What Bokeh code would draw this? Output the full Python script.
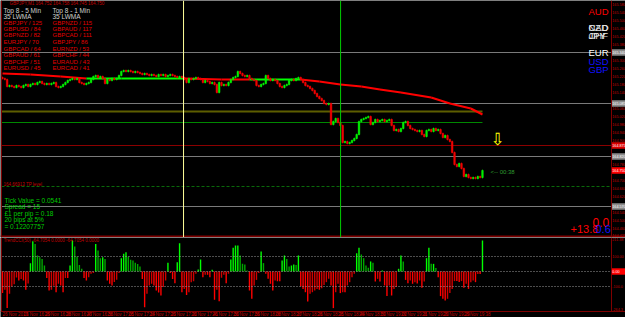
from bokeh.plotting import figure
from bokeh.layouts import column
from bokeh.models import Range1d, Span, Label
from bokeh.embed import file_html
from bokeh.resources import INLINE

# ---------------- data ----------------
first_open = 165.215
closes = [
    165.210, 165.205, 165.170, 165.175, 165.170, 165.165, 165.175, 165.170,
    165.165, 165.175, 165.180, 165.170, 165.180, 165.185, 165.180, 165.190, 165.195, 165.185, 165.180, 165.185, 165.180, 165.185,
    165.190, 165.170, 165.165, 165.170, 165.180, 165.190, 165.200, 165.205, 165.210, 165.205, 165.210, 165.190, 165.185, 165.180, 165.185,
    165.190, 165.205, 165.220, 165.225, 165.215, 165.220, 165.210, 165.185, 165.205, 165.200, 165.210, 165.205, 165.210, 165.225,
    165.245, 165.250, 165.245, 165.250, 165.245, 165.240, 165.245, 165.240, 165.235, 165.230, 165.235, 165.230, 165.225, 165.230, 165.225,
    165.220, 165.230, 165.225, 165.230, 165.220, 165.225, 165.230, 165.225, 165.220, 165.215, 165.220, 165.215, 165.205, 165.190,
    165.210, 165.205, 165.210, 165.215, 165.210, 165.205, 165.190, 165.200, 165.195, 165.185, 165.190, 165.180, 165.140, 165.190, 165.175,
    165.180, 165.175, 165.190, 165.205, 165.215, 165.220, 165.245, 165.235, 165.225, 165.220, 165.225, 165.210, 165.205, 165.200,
    165.175, 165.170, 165.180, 165.185, 165.225, 165.210, 165.200, 165.205, 165.200, 165.185, 165.170, 165.165, 165.175, 165.180, 165.200,
    165.205, 165.200, 165.210, 165.215, 165.205, 165.190, 165.175, 165.170, 165.160, 165.150, 165.135, 165.120, 165.110, 165.100, 165.085,
    165.080, 165.085, 164.980, 164.995, 165.010, 164.990, 164.975, 164.890, 164.895, 164.885, 164.890, 164.900, 164.910, 164.930,
    164.995, 165.005, 165.010, 165.015, 165.020, 164.980, 164.990, 165.005, 164.995, 165.000, 165.005, 164.995, 165.000, 165.005, 164.975,
    164.950, 164.955, 164.945, 164.960, 164.990, 164.995, 164.975, 164.960, 164.955, 164.950, 164.945, 164.950, 164.930, 164.920,
    164.950, 164.955, 164.945, 164.960, 164.950, 164.955, 164.935, 164.915, 164.925, 164.905, 164.895, 164.840, 164.780, 164.770, 164.785,
    164.760, 164.720, 164.730, 164.715, 164.710, 164.715, 164.710, 164.720, 164.715,
    164.750,
]

indicator = [
    -144, -122, -244, -149, -100, -85, -40, -60, -50, -60,
    -122, -80, 55, 202, 184, 107, 95, 84, 40, -44,
    -127, -122, -95, -138, -82, -93, -138, -44, -44, 40,
    207, 167, 100, 44, 18, -44, -60, -38, -15, -10,
    184, 140, 89, 95, 84, -60, -82, -93, -70, -55,
    -10, 89, 118, 129, 100, 78, 73, 58, 50, 33,
    -50, -238, -149, -93, -82, -93, -127, -140, -160, -104,
    -60, 58, -10, -50, -78, 62, 189, -138, -116, -156,
    -138, -71, -65, -15, 13, 80, -38, -22, -22, -38,
    11, -189, -122, -198, -42, -22, -78, -15, 80, 158,
    173, 173, 107, 51, 47, 7, -127, -182, -93, -56,
    -10, 133, 56, -15, -49, -82, -127, -60, -65, -65,
    73, 107, 84, 33, 40, 47, 44, 107,
    -100, -116, -138, -200, -149, -138, -127, -116, -122, -111,
    -90, -71, -49, -93, -244, -138, -82, -144, -138, -138,
    -93, -71, -38, -15, 122, 158, 113, 89, 40, 25,
    67, 58, -67, -49, -67, 7, -93, -164, -93, -160,
    -116, -104, 18, 107, 67, -56, -78, -60, -82, -71,
    -80, -60, -109, -67, 89, 158, 51, 51, 24, -38,
    -164, -182, -193, -182, -144, -116, -64, -64, -70, -64,
    -109, -82, -116, -71, -60, -71, -16, -16, 207,
]

# 35 LWMA read at sample bars
ma_idx = [0, 12, 25, 36, 51, 78, 94, 106, 128, 136, 145, 154, 162, 171, 184, 192, 201, 206]
ma_val = [165.235, 165.230, 165.220, 165.210, 165.210, 165.210, 165.205, 165.205, 165.205,
          165.195, 165.180, 165.170, 165.155, 165.140, 165.115, 165.085, 165.060, 165.030]
ma_flat = [False, False, False, True, True, False, False, True, False,
           False, False, False, False, False, False, False, False]

# horizontal levels: price, last bar index reached (None = full width), colour, width, dash
levels = [
    (165.340, None, "#7a7a7a", 1, "solid"),
    (165.085, None, "#7a7a7a", 1, "solid"),
    (165.045, 206, "#5e5e00", 2, "solid"),
    (164.990, 206, "#008800", 1, "solid"),
    (164.875, None, "#8b0000", 1, "solid"),
    (164.820, None, "#7a7a7a", 1, "solid"),
    (164.670, None, "#0a6a0a", 1, "3 2"),
    (164.570, None, "#7a7a7a", 1, "solid"),
]
marked_levels = [(165.340, "#8a8a8a"), (165.085, "#8a8a8a"), (164.875, "#dd0000"),
                 (164.820, "#8a8a8a"), (164.570, "#8a8a8a")]
event_bars = [77.7, 145.1]
event_colors = ["#ffff99", "#00cc00"]

price_ticks = [165.580, 165.540, 165.500, 165.460, 165.420, 165.380, 165.300, 165.260, 165.220,
               165.180, 165.140, 165.060, 165.020, 164.980, 164.940, 164.900, 164.780,
               164.700, 164.660, 164.620, 164.540, 164.500, 164.460, 164.425]
ind_ticks = [(211.38, "211.38"), (100, "100.00"), (-100, "-100.0"), (-253, "-264.3")]

strength_5 = ["GBPJPY / 125", "GBPUSD / 84", "GBPNZD / 82", "EURJPY / 70",
              "GBPCAD / 64", "GBPAUD / 61", "GBPCHF / 51", "EURUSD / 45"]
strength_1 = ["GBPNZD / 115", "GBPAUD / 117", "GBPCAD / 111", "GBPJPY / 86",
              "EURNZD / 53", "GBPCHF / 44", "EURAUD / 43", "EURCAD / 41"]
info_lines = ["Tick Value = 0.0541", "Spread = 15", "£1 per pip = 0.18",
              "20 pips at 5%", "= 0.12207757"]
time_idx = list(range(0, 199, 9))
time_labels = ["26 Nov 2013", "26 Nov 16:29", "26 Nov 16:38", "26 Nov 16:47", "26 Nov 16:56",
               "26 Nov 17:05", "26 Nov 17:14", "26 Nov 17:23", "26 Nov 17:32", "26 Nov 17:41",
               "26 Nov 17:50", "26 Nov 17:59", "26 Nov 18:08", "26 Nov 18:17", "26 Nov 18:26",
               "26 Nov 18:35", "26 Nov 18:44", "26 Nov 18:53", "26 Nov 19:02", "26 Nov 19:11",
               "26 Nov 19:20", "26 Nov 19:29", "26 Nov 19:38"]

# ---------------- layout constants ----------------
W, H1, H2 = 625, 237, 80
PX0, STEP = 2.0, 2.33
P_TOP, P_PX = 165.60, 0.005
ZERO_PX, IND_PX = 34, 15.0
FONT = "Liberation Sans"
AX_RED = "#800000"
AX_FONT = "3.7px"


def ix(px):
    return (px - PX0) / STEP


def y1(py):
    return P_TOP - py * P_PX


def y2(py):
    return (ZERO_PX - (py - H1)) * 100.0 / IND_PX


xr = Range1d(ix(0), ix(W))


def mkfig(h, yr):
    p = figure(width=W, height=h, x_range=xr, y_range=yr, output_backend="svg",
               toolbar_location=None, x_axis_type=None, y_axis_type=None,
               background_fill_color="black", border_fill_color="black",
               outline_line_color=None, min_border=0)
    p.min_border_left = p.min_border_right = p.min_border_top = p.min_border_bottom = 0
    return p


def lab(p, x, y, s, color, size, align="left", baseline="middle", font=FONT, style="normal"):
    p.add_layout(Label(x=x, y=y, text=s, text_color=color, text_font_size=size,
                       text_font=font, text_align=align, text_baseline=baseline,
                       text_font_style=style))


# ---------------- main price panel ----------------
p1 = mkfig(H1, Range1d(y1(H1), y1(0)))

for price, end, col, w, dash in levels:
    xe = ix(611) if end is None else end
    p1.segment([ix(1)], [price], [xe], [price], line_color=col, line_width=w, line_dash=dash)

for loc, col in zip(event_bars, event_colors):
    p1.add_layout(Span(location=loc, dimension="height", line_color=col, line_width=1))

# moving average
for k in range(len(ma_idx) - 1):
    p1.segment([ma_idx[k]], [ma_val[k]], [ma_idx[k + 1]], [ma_val[k + 1]],
               line_color="#00ff00" if ma_flat[k] else "#ff0000", line_width=2)

# candles
opens = [first_open] + closes[:-1]
xs = list(range(len(closes)))
tops = [max(o, c) for o, c in zip(opens, closes)]
bots = [min(o, c) for o, c in zip(opens, closes)]
ccol = ["#00f000" if c > o else "#f00000" for o, c in zip(opens, closes)]
WICK = 0.004
p1.segment(xs, [b - WICK for b in bots], xs, [t + WICK for t in tops], line_color=ccol, line_width=1)
p1.vbar(x=xs, top=tops, bottom=bots, width=0.7, fill_color=ccol, line_color=ccol, line_width=0.5)

# axis line and bottom border
p1.segment([ix(611)], [y1(0)], [ix(611)], [y1(H1)], line_color=AX_RED, line_width=1)
p1.segment([ix(1)], [y1(0)], [ix(1)], [y1(H1)], line_color=AX_RED, line_width=1)
p1.segment([ix(0)], [y1(236)], [ix(W)], [y1(236)], line_color=AX_RED, line_width=2)

# price scale labels
for t in price_ticks:
    lab(p1, ix(611.8), t, f"{t:.3f}", "#c00000", AX_FONT)
boxes = marked_levels + [(closes[-1], "#ff0000")]
for lvl, col in boxes:
    p1.quad(left=[ix(611.5)], right=[ix(W)], bottom=[lvl - 3.2 * P_PX], top=[lvl + 3.2 * P_PX],
            fill_color=col, line_color=None)
    lab(p1, ix(611.8), lvl, f"{lvl:.3f}", "#ffffff", AX_FONT)

# top-left texts
lab(p1, ix(9), y1(2.5), "GBPJPY,M1  164.752 164.758 164.745 164.750", "#c00000", "4.5px")
lab(p1, ix(3), y1(10), "Top 8 - 5 Min", "#d0d0d0", "6.5px")
lab(p1, ix(3), y1(15.5), "35 LWMA", "#d0d0d0", "6.5px")
lab(p1, ix(52), y1(10), "Top 8 - 1 Min", "#d0d0d0", "6.5px")
lab(p1, ix(52), y1(15.5), "35 LWMA", "#d0d0d0", "6.5px")
row_y = [22, 28.5, 34.5, 41, 48, 54.5, 61, 67.5]
for ry, a, b in zip(row_y, strength_5, strength_1):
    lab(p1, ix(3), y1(ry), a, "#e00000", "6px")
    lab(p1, ix(52), y1(ry), b, "#e00000", "6px")

# currency strength labels (right)
lab(p1, ix(588), y1(11), "AUD", "#ff0000", "9.5px")
lab(p1, ix(588), y1(26.5), "CAD", "#ffffff", "9.5px")
lab(p1, ix(588), y1(26.5), "NZD", "#e0e0e0", "9.5px")
lab(p1, ix(588), y1(35), "JPY", "#ffffff", "9.5px")
lab(p1, ix(588), y1(35), "CHF", "#e0e0e0", "9.5px")
lab(p1, ix(588), y1(51.5), "EUR", "#ffffff", "9.5px")
lab(p1, ix(588), y1(60.5), "USD", "#1010ff", "9.5px")
lab(p1, ix(588), y1(68.5), "GBP", "#1010ff", "9.5px")

# info block
lab(p1, ix(3), y1(184), "164.66913  TP level", "#c00000", "4.5px")
info_y = [199.5, 206, 212.5, 219, 225.5]
for iy, s in zip(info_y, info_lines):
    lab(p1, ix(4), y1(iy), s, "#00cc00", "6.5px")

# countdown, arrow, P/L numbers
lab(p1, ix(490), y1(171.5), "<-- 00:38", "#2f9a2f", "6px")
lab(p1, ix(497), y1(138), "\u21e9", "#ffff00", "17px", align="center", font="DejaVu Sans")
lab(p1, ix(592), y1(221.5), "0.0", "#ff0000", "12px")
lab(p1, ix(570), y1(228.5), "+13.8", "#ff0000", "11px")
lab(p1, ix(595), y1(228.5), "0.6", "#1010ff", "11px")

# ---------------- indicator panel ----------------
p2 = mkfig(H2, Range1d(y2(H1 + H2), y2(H1)))

ix2 = list(range(len(indicator)))
icol = []
for k, v in enumerate(indicator):
    prev = indicator[k - 1] if k > 0 else 0
    if v >= 0:
        icol.append("#00ff00" if v >= prev else "#00a800")
    else:
        icol.append("#ff0000" if v <= prev else "#d00000")
p2.vbar(x=ix2, top=indicator, bottom=0, width=0.6, fill_color=icol, line_color=None)

for lv in [100, 0, -100]:
    p2.segment([ix(2)], [lv], [ix(611)], [lv], line_color="#9a9a9a", line_width=1, line_dash="1 2")

p2.segment([ix(611)], [y2(H1)], [ix(611)], [y2(311)], line_color=AX_RED, line_width=1)
p2.segment([ix(1)], [y2(H1)], [ix(1)], [y2(311)], line_color=AX_RED, line_width=1)
p2.segment([ix(0)], [y2(311)], [ix(W)], [y2(311)], line_color=AX_RED, line_width=1)

lab(p2, ix(3), y2(240), "TrendCCI(50)  -64.7054  0.0000  -64.7054  0.0000", "#c00000", "4.5px")
for v, s in ind_ticks:
    lab(p2, ix(611.8), v, s, "#c00000", AX_FONT)
p2.quad(left=[ix(611.5)], right=[ix(W)], bottom=[-3.2 * 100 / IND_PX], top=[3.2 * 100 / IND_PX],
        fill_color="#ff0000", line_color=None)
lab(p2, ix(611.8), 0, "0.00", "#ffffff", AX_FONT)

for ti, s in zip(time_idx, time_labels):
    lab(p2, ti, y2(314), s, "#c00000", "4.5px")

layout = column(p1, p2)
open("out.html", "w").write(file_html(layout, INLINE))
